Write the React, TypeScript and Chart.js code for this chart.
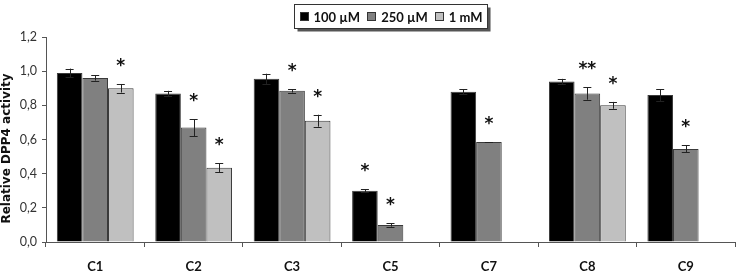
import React, { useEffect, useRef } from "react";
import { Chart, registerables } from "chart.js";

Chart.register(...registerables);

const categories = ["C1", "C2", "C3", "C5", "C7", "C8", "C9"];
const seriesLabels = ["100 µM", "250 µM", "1 mM"];
const yTitle = "Relative DPP4 activity";

const values100 = [0.99, 0.87, 0.955, 0.3, 0.88, 0.94, 0.86];
const errors100 = [0.025, 0.015, 0.03, 0.01, 0.015, 0.015, 0.035];
const stars100 = ["", "", "", "*", "", "", ""];

const values250 = [0.96, 0.67, 0.885, 0.1, 0.585, 0.87, 0.545];
const errors250 = [0.015, 0.05, 0.01, 0.01, 0.003, 0.037, 0.02];
const stars250 = ["", "*", "*", "*", "*", "**", "*"];

const values1mM = [0.9, 0.435, 0.71, null, null, 0.8, null];
const errors1mM = [0.025, 0.025, 0.035, null, null, 0.02, null];
const stars1mM = ["*", "*", "*", "", "", "*", ""];

const yTicks = [0, 0.2, 0.4, 0.6, 0.8, 1.0, 1.2];

const FONT = "Lato, 'DejaVu Sans', sans-serif";
const fills = ["#000000", "#808080", "#c0c0c0"];
const errorsBySeries = [errors100, errors250, errors1mM];
const starsBySeries = [stars100, stars250, stars1mM];

// Error bars with caps and significance asterisks above them
const errorBarPlugin = {
  id: "errorBars",
  afterDatasetsDraw(chart: any) {
    const { ctx } = chart;
    const yScale = chart.scales.y;
    chart.data.datasets.forEach((ds: any, di: number) => {
      const meta = chart.getDatasetMeta(di);
      meta.data.forEach((bar: any, i: number) => {
        const v = ds.data[i];
        const e = errorsBySeries[di][i];
        if (v == null) return;
        const x = bar.x;
        const err = e ?? 0;
        const yTop = yScale.getPixelForValue(v + err);
        const yBot = yScale.getPixelForValue(v - err);
        ctx.save();
        ctx.strokeStyle = "#222";
        ctx.lineWidth = 1;
        if (err > 0.004) {
          ctx.beginPath();
          ctx.moveTo(Math.round(x) + 0.5, yTop);
          ctx.lineTo(Math.round(x) + 0.5, yBot);
          ctx.moveTo(x - 4, Math.round(yTop) + 0.5);
          ctx.lineTo(x + 4, Math.round(yTop) + 0.5);
          ctx.moveTo(x - 4, Math.round(yBot) + 0.5);
          ctx.lineTo(x + 4, Math.round(yBot) + 0.5);
          ctx.stroke();
        } else if (err > 0) {
          ctx.beginPath();
          ctx.moveTo(x - 4, Math.round(yTop) + 0.5);
          ctx.lineTo(x + 4, Math.round(yTop) + 0.5);
          ctx.stroke();
        }
        const s = starsBySeries[di][i];
        if (s) {
          ctx.fillStyle = "#111";
          ctx.font = "bold 17px 'DejaVu Sans', sans-serif";
          ctx.textAlign = "center";
          ctx.textBaseline = "alphabetic";
          ctx.fillText(s, x, yTop - 13);
        }
        ctx.restore();
      });
    });
  },
};

// Rotated y-axis title drawn beside the tick labels
const yTitlePlugin = {
  id: "yTitle",
  afterDraw(chart: any) {
    const { ctx, chartArea } = chart;
    ctx.save();
    ctx.translate(7, (chartArea.top + chartArea.bottom) / 2 + 9);
    ctx.rotate(-Math.PI / 2);
    ctx.font = "bold 12px 'DejaVu Sans', sans-serif";
    ctx.fillStyle = "#111";
    ctx.textAlign = "center";
    ctx.textBaseline = "middle";
    ctx.fillText(yTitle, 0, 0);
    ctx.restore();
  },
};

// Boxed legend with a drop shadow, centred over the plot area
const boxLegendPlugin = {
  id: "boxLegend",
  afterDraw(chart: any) {
    const { ctx, chartArea } = chart;
    ctx.save();
    ctx.font = `bold 13px ${FONT}`;
    const sq = 9;
    const gapSqText = 5;
    const gapItems = 7;
    const padX = 5;
    const widths = seriesLabels.map((l) => ctx.measureText(l).width);
    const total =
      padX * 2 +
      widths.reduce((a, w) => a + sq + gapSqText + w, 0) +
      gapItems * (seriesLabels.length - 1);
    const h = 24;
    const cx = (chartArea.left + chartArea.right) / 2;
    const x0 = Math.round(cx - total / 2) + 0.5;
    const y0 = 4.5;
    ctx.fillStyle = "#555";
    ctx.fillRect(x0 + 3, y0 + 3, total, h);
    ctx.fillStyle = "#fff";
    ctx.fillRect(x0, y0, total, h);
    ctx.strokeStyle = "#333";
    ctx.lineWidth = 1;
    ctx.strokeRect(x0, y0, total, h);
    let x = x0 + padX;
    const cy = y0 + h / 2;
    seriesLabels.forEach((l, i) => {
      ctx.fillStyle = fills[i];
      ctx.fillRect(Math.round(x), Math.round(cy - sq / 2), sq, sq);
      ctx.strokeStyle = "#333";
      ctx.strokeRect(Math.round(x) + 0.5, Math.round(cy - sq / 2) + 0.5, sq - 1, sq - 1);
      x += sq + gapSqText;
      ctx.fillStyle = "#111";
      ctx.textAlign = "left";
      ctx.textBaseline = "middle";
      ctx.fillText(l, x, cy + 1);
      x += widths[i] + gapItems;
    });
    ctx.restore();
  },
};

export default function App() {
  const canvasRef = useRef<HTMLCanvasElement | null>(null);

  useEffect(() => {
    document.body.style.margin = "0";
    const canvas = canvasRef.current;
    if (!canvas) return;
    const datasets = [values100, values250, values1mM].map((d, i) => ({
      label: seriesLabels[i],
      data: d,
      backgroundColor: fills[i],
      borderColor: "#3a3a3a",
      borderWidth: 1,
      barPercentage: 1,
      categoryPercentage: 0.78,
    }));
    const chart = new Chart(canvas, {
      type: "bar",
      data: { labels: categories, datasets },
      options: {
        animation: false,
        responsive: false,
        layout: { padding: { top: 37, right: 6, left: 0, bottom: 0 } },
        plugins: {
          legend: { display: false },
          tooltip: { enabled: false },
        },
        scales: {
          x: {
            grid: {
              display: true,
              drawOnChartArea: false,
              tickLength: 5,
              color: "#555",
              offset: true,
            },
            border: { display: true, color: "#555" },
            ticks: {
              padding: 12,
              color: "#111",
              font: { family: FONT, size: 13, weight: "bold" },
            },
            afterFit: (s: any) => {
              s.height = 36;
            },
          },
          y: {
            min: 0,
            max: 1.2,
            afterBuildTicks: (s: any) => {
              s.ticks = yTicks.map((v) => ({ value: v }));
            },
            grid: {
              display: true,
              drawOnChartArea: false,
              tickLength: 4,
              color: "#555",
            },
            border: { display: true, color: "#555" },
            ticks: {
              padding: 5,
              color: "#333",
              font: { family: FONT, size: 12.5 },
              callback: (v: any) => Number(v).toFixed(1).replace(".", ","),
            },
            afterFit: (s: any) => {
              s.width = 46;
            },
          },
        },
      },
      plugins: [errorBarPlugin, yTitlePlugin, boxLegendPlugin],
    });
    return () => chart.destroy();
  }, []);

  return (
    <div style={{ width: 741, height: 278, background: "#fff" }}>
      <canvas ref={canvasRef} width={741} height={278} />
    </div>
  );
}
